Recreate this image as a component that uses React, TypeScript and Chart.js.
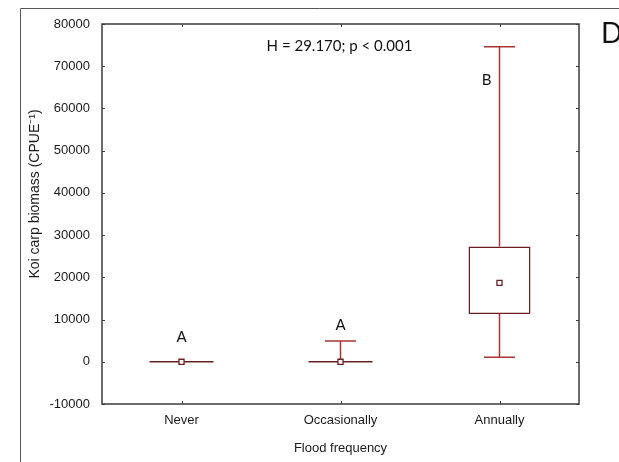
import React, { useEffect, useRef } from "react";
import { Chart, registerables } from "chart.js";

Chart.register(...registerables);

const categories = ["Never", "Occasionally", "Annually"];
const whiskerMin = [0, 0, 1100];
const boxQ1 = [0, 0, 11300];
const medians = [0, 0, 18700];
const boxQ3 = [0, 0, 27300];
const whiskerMax = [0, 4900, 74600];
const groupLetters = ["A", "A", "B"];
const letterValues = [5900, 8700, 66700];
const yMin = -10000;
const yMax = 80000;
const yStep = 10000;
const statText = "H = 29.170; p < 0.001";
const panelLabel = "D";
const xTitle = "Flood frequency";
const yTitle = "Koi carp biomass (CPUE\u207B\u00B9)";

const BOX_COLOR = "#6e1e1e";
const WHISKER_COLOR = "#a83434";
const AXIS_COLOR = "#3c3c3c";
const TEXT_COLOR = "#1a1a1a";
const TICK_FONT = "'Liberation Sans', Arial, sans-serif";
const NOTE_FONT = "Lato, 'Open Sans', sans-serif";

const boxPlugin = {
  id: "boxExtras",
  beforeDraw(chart: any) {
    const { ctx } = chart;
    ctx.save();
    ctx.strokeStyle = "#555555";
    ctx.lineWidth = 1;
    ctx.beginPath();
    ctx.moveTo(20.5, chart.height);
    ctx.lineTo(20.5, 8.5);
    ctx.lineTo(chart.width, 8.5);
    ctx.stroke();
    ctx.restore();
  },
  beforeDatasetsDraw(chart: any) {
    const { ctx } = chart;
    const x = chart.scales.x;
    const y = chart.scales.y;
    const meta = chart.getDatasetMeta(1);
    ctx.save();
    categories.forEach((_c, i) => {
      const bar: any = meta.data[i];
      const cx = x.getPixelForValue(i);
      const half = bar ? bar.width / 2 : 31;
      const cap = half / 2;
      ctx.lineWidth = 1.5;
      ctx.strokeStyle = WHISKER_COLOR;
      if (whiskerMax[i] > boxQ3[i]) {
        const yt = y.getPixelForValue(whiskerMax[i]);
        const yb = y.getPixelForValue(boxQ3[i]);
        ctx.beginPath();
        ctx.moveTo(cx, yb);
        ctx.lineTo(cx, yt);
        ctx.moveTo(cx - cap, yt);
        ctx.lineTo(cx + cap, yt);
        ctx.stroke();
      }
      if (whiskerMin[i] < boxQ1[i]) {
        const yt = y.getPixelForValue(boxQ1[i]);
        const yb = y.getPixelForValue(whiskerMin[i]);
        ctx.beginPath();
        ctx.moveTo(cx, yt);
        ctx.lineTo(cx, yb);
        ctx.moveTo(cx - cap, yb);
        ctx.lineTo(cx + cap, yb);
        ctx.stroke();
      }
      if (boxQ1[i] === boxQ3[i]) {
        const yy = y.getPixelForValue(boxQ1[i]);
        ctx.strokeStyle = BOX_COLOR;
        ctx.beginPath();
        ctx.moveTo(cx - half - 1, yy);
        ctx.lineTo(cx + half + 1, yy);
        ctx.stroke();
      }
    });
    ctx.restore();
  },
  afterDraw(chart: any) {
    const { ctx, chartArea } = chart;
    const x = chart.scales.x;
    const y = chart.scales.y;
    const { left, right, top, bottom } = chartArea;
    ctx.save();
    // frame
    ctx.strokeStyle = AXIS_COLOR;
    ctx.lineWidth = 1.5;
    ctx.strokeRect(left, top, right - left, bottom - top);
    // inner ticks
    ctx.lineWidth = 1;
    ctx.beginPath();
    for (let v = yMin; v <= yMax; v += yStep) {
      const py = Math.round(y.getPixelForValue(v)) + 0.5;
      ctx.moveTo(left, py);
      ctx.lineTo(left + 3, py);
      ctx.moveTo(right, py);
      ctx.lineTo(right - 3, py);
    }
    categories.forEach((_c, i) => {
      const px = Math.round(x.getPixelForValue(i)) + 0.5;
      ctx.moveTo(px, top);
      ctx.lineTo(px, top + 3);
      ctx.moveTo(px, bottom);
      ctx.lineTo(px, bottom - 3);
    });
    ctx.stroke();
    // y axis title
    ctx.save();
    ctx.translate(35, (top + bottom) / 2 - 20);
    ctx.rotate(-Math.PI / 2);
    ctx.fillStyle = TEXT_COLOR;
    ctx.textAlign = "center";
    ctx.textBaseline = "middle";
    ctx.font = `14px ${TICK_FONT}`;
    ctx.fillText(yTitle, 0, 0);
    ctx.restore();
    // annotations
    ctx.fillStyle = "#111111";
    ctx.textAlign = "center";
    ctx.textBaseline = "middle";
    ctx.font = `15px ${NOTE_FONT}`;
    ctx.fillText(statText, x.getPixelForValue(1) - 1, top + 22);
    groupLetters.forEach((l, i) => {
      const dx = i === 2 ? -13 : 0;
      ctx.fillText(l, x.getPixelForValue(i) + dx, y.getPixelForValue(letterValues[i]));
    });
    ctx.font = `28px ${NOTE_FONT}`;
    ctx.textAlign = "left";
    ctx.fillText(panelLabel, right + 22, top + 10);
    ctx.restore();
  },
};

export default function App() {
  const canvasRef = useRef<HTMLCanvasElement | null>(null);

  useEffect(() => {
    if (!canvasRef.current) return;
    const chart = new Chart(canvasRef.current, {
      type: "bar",
      data: {
        labels: categories,
        datasets: [
          {
            type: "line",
            label: "Median",
            data: medians,
            showLine: false,
            pointStyle: "rect",
            pointRadius: 3.6,
            pointBorderWidth: 1.3,
            pointBorderColor: BOX_COLOR,
            pointBackgroundColor: "#ffffff",
            order: 1,
          } as any,
          {
            type: "bar",
            label: "Box",
            data: categories.map((_c, i) => [boxQ1[i], boxQ3[i]]),
            backgroundColor: "#ffffff",
            borderColor: BOX_COLOR,
            borderWidth: 1.5,
            borderSkipped: false,
            barPercentage: 0.39,
            categoryPercentage: 1,
            order: 2,
          } as any,
        ],
      },
      options: {
        animation: false,
        responsive: true,
        maintainAspectRatio: false,
        layout: { padding: { top: 24, right: 40, left: 0, bottom: 0 } },
        plugins: {
          legend: { display: false },
          tooltip: { enabled: false },
        },
        scales: {
          x: {
            offset: true,
            grid: { display: false, drawTicks: false },
            border: { display: false },
            ticks: {
              padding: 9,
              color: TEXT_COLOR,
              font: { family: TICK_FONT, size: 13 },
            },
            title: {
              display: true,
              text: xTitle,
              color: TEXT_COLOR,
              font: { family: TICK_FONT, size: 13 },
              padding: { top: 0, bottom: 6 },
            },
            afterFit: (scale: any) => {
              scale.height = 58;
            },
          },
          y: {
            min: yMin,
            max: yMax,
            grid: { display: false, drawTicks: false },
            border: { display: false },
            ticks: {
              stepSize: yStep,
              padding: 12,
              color: TEXT_COLOR,
              font: { family: TICK_FONT, size: 13 },
              callback: (v: any) => String(v),
            },
            title: { display: false },
            afterFit: (scale: any) => {
              scale.width = 102;
            },
          },
        },
      },
      plugins: [boxPlugin],
    });
    return () => chart.destroy();
  }, []);

  return (
    <div style={{ position: "fixed", left: 0, top: 0, width: 619, height: 462, background: "#ffffff" }}>
      <canvas ref={canvasRef} />
    </div>
  );
}
